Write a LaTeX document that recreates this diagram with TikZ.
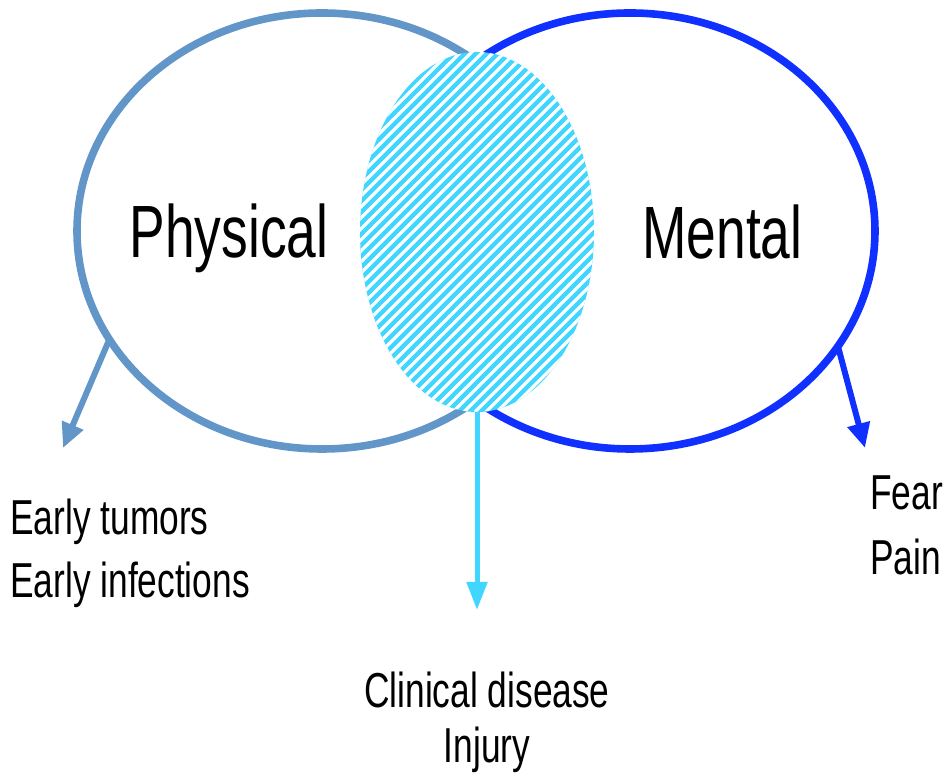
\documentclass[tikz,border=0pt]{standalone}
\usepackage{fontspec}
\setmainfont{Liberation Sans}[FakeStretch=0.72]
\usetikzlibrary{arrows.meta, shapes.geometric, positioning}
\definecolor{physblue}{RGB}{98,150,200}
\definecolor{mentblue}{RGB}{16,48,255}
\definecolor{lenscyan}{RGB}{64,214,255}

\begin{document}
\begin{tikzpicture}[
    ring/.style={ellipse, draw, line width=0.19cm, inner sep=0pt, outer sep=0pt,
                 minimum width=12.25cm, minimum height=10.9cm},
    bigtext/.style={font=\fontsize{52.7}{60}\selectfont, inner sep=0pt, anchor=base},
    smalltext/.style={font=\fontsize{34.9}{42}\selectfont, inner sep=0pt},
    arr/.style={line width=0.15cm, -{Triangle[length=0.62cm, width=0.55cm]}}
]
    \useasboundingbox (0,0) rectangle (23.8,19.55);

    % Circles
    \node[ring, physblue] (phys) at (8.05,13.775) {};
    \node[ring, mentblue] (ment) at (15.75,13.775) {};

    % Overlap (hatched)
    \node[ellipse, fill=lenscyan, inner sep=0pt, outer sep=0pt,
          minimum width=5.85cm, minimum height=9cm,
          path picture={
            \foreach \c in {-9.5,-9.225,...,6.2}
              \draw[white, line width=0.08cm]
                ([xshift=\c cm]path picture bounding box.south west) -- ++(10,10);
          }] (lens) at (11.925,13.75) {};

    % Labels
    \node[bigtext] (physlbl) at (5.725,13.1) {Physical};
    \node[bigtext] (mentlbl) at (18.06,13.075) {Mental};

    \node[smalltext, anchor=base west] (tumors) at (0.25,6.175) {Early tumors};
    \node[smalltext, anchor=base west] (infect) at (0.25,4.6) {Early infections};
    \node[smalltext, anchor=base west] (fear) at (21.75,6.8) {Fear};
    \node[smalltext, anchor=base west] (pain) at (21.75,5.175) {Pain};
    \node[smalltext, anchor=base] (clinical) at (12.175,1.85) {Clinical disease};
    \node[smalltext, anchor=base] (injury) at (12.175,0.475) {Injury};

    % Arrows
    \coordinate (physend) at (1.575,8.35);
    \coordinate (lensend) at (11.925,4.3);
    \coordinate (mentend) at (21.625,8.35);
    \draw[arr, physblue] (phys.207) -- (physend);
    \draw[arr, lenscyan, line width=0.125cm, -{Triangle[length=0.7cm, width=0.5cm]}] (lens.south) -- (lensend);
    \draw[arr, mentblue] (ment.331) -- (mentend);
\end{tikzpicture}
\end{document}
